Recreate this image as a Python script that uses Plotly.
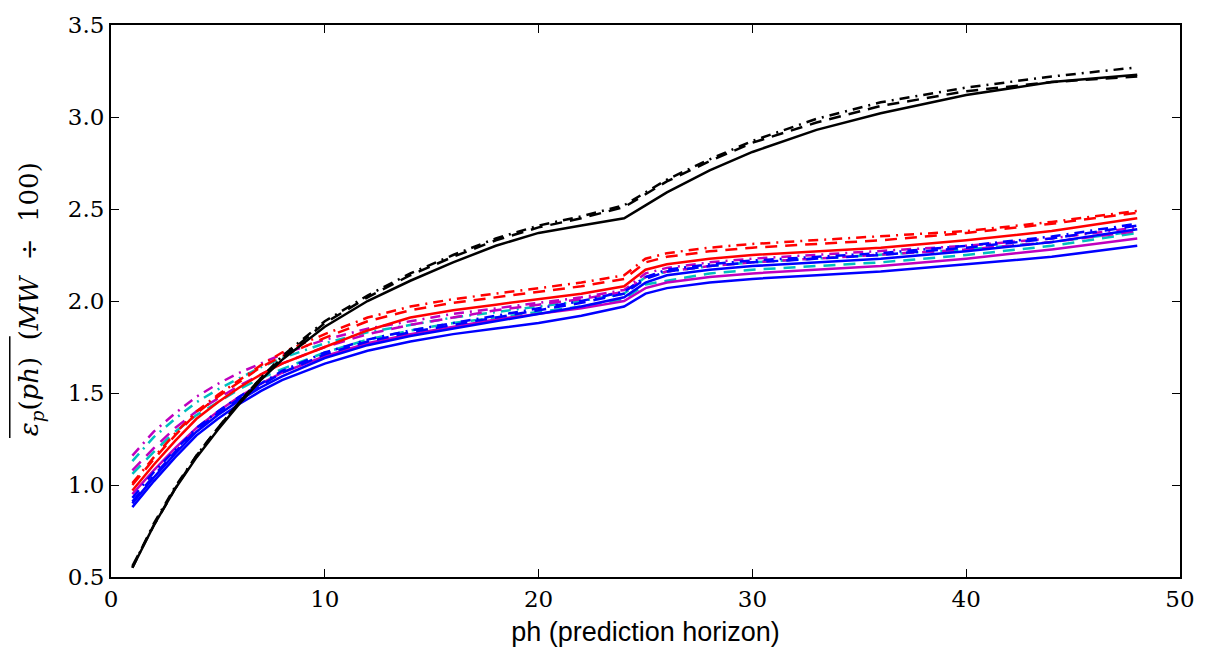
import plotly.graph_objects as go

# prediction horizon
ph = [1, 2, 3, 4, 5, 6, 7, 8, 10, 12, 14, 16, 18, 20, 22, 24, 25, 26, 28, 30, 33, 36, 40, 44, 48]

# series values (MW / 100)
k_solid   = [0.55, 0.78, 0.98, 1.15, 1.30, 1.44, 1.57, 1.68, 1.86, 2.00, 2.11, 2.21, 2.30, 2.37, 2.41, 2.45, 2.52, 2.59, 2.71, 2.81, 2.93, 3.02, 3.12, 3.19, 3.23]
k_dash    = [0.56, 0.78, 0.98, 1.16, 1.31, 1.45, 1.58, 1.69, 1.88, 2.02, 2.14, 2.24, 2.33, 2.40, 2.45, 2.51, 2.58, 2.65, 2.76, 2.86, 2.97, 3.06, 3.14, 3.19, 3.22]
k_dashdot = [0.55, 0.79, 0.99, 1.16, 1.31, 1.45, 1.58, 1.70, 1.89, 2.03, 2.15, 2.25, 2.34, 2.41, 2.46, 2.52, 2.59, 2.66, 2.77, 2.87, 2.99, 3.08, 3.16, 3.22, 3.27]

r_solid   = [0.97, 1.11, 1.24, 1.36, 1.45, 1.53, 1.60, 1.66, 1.75, 1.84, 1.91, 1.95, 1.98, 2.01, 2.04, 2.08, 2.17, 2.20, 2.23, 2.25, 2.27, 2.29, 2.33, 2.38, 2.45]
r_dash    = [1.00, 1.14, 1.27, 1.39, 1.48, 1.56, 1.64, 1.70, 1.80, 1.89, 1.95, 1.99, 2.02, 2.05, 2.08, 2.12, 2.21, 2.24, 2.27, 2.29, 2.31, 2.33, 2.37, 2.42, 2.48]
r_dashdot = [1.01, 1.15, 1.28, 1.40, 1.49, 1.57, 1.65, 1.72, 1.82, 1.91, 1.97, 2.01, 2.04, 2.07, 2.10, 2.14, 2.23, 2.26, 2.29, 2.31, 2.33, 2.35, 2.38, 2.43, 2.49]

b_solid_low = [0.88, 1.02, 1.15, 1.27, 1.36, 1.44, 1.51, 1.57, 1.66, 1.73, 1.78, 1.82, 1.85, 1.88, 1.92, 1.97, 2.04, 2.07, 2.10, 2.12, 2.14, 2.16, 2.20, 2.24, 2.30]
b_solid_up  = [0.90, 1.04, 1.17, 1.29, 1.38, 1.46, 1.53, 1.59, 1.69, 1.76, 1.81, 1.85, 1.89, 1.93, 1.97, 2.02, 2.10, 2.14, 2.17, 2.19, 2.21, 2.23, 2.27, 2.32, 2.39]
b_dash      = [0.91, 1.05, 1.18, 1.30, 1.39, 1.47, 1.54, 1.61, 1.71, 1.78, 1.83, 1.87, 1.91, 1.95, 1.99, 2.04, 2.12, 2.16, 2.19, 2.21, 2.23, 2.25, 2.29, 2.34, 2.41]
b_dashdot   = [0.93, 1.07, 1.19, 1.31, 1.40, 1.48, 1.55, 1.62, 1.72, 1.79, 1.84, 1.88, 1.92, 1.96, 2.00, 2.05, 2.13, 2.17, 2.20, 2.22, 2.24, 2.26, 2.30, 2.35, 2.42]

m_solid   = [0.95, 1.08, 1.20, 1.31, 1.40, 1.48, 1.55, 1.61, 1.70, 1.77, 1.82, 1.86, 1.90, 1.93, 1.96, 2.00, 2.07, 2.10, 2.13, 2.15, 2.17, 2.19, 2.23, 2.28, 2.34]
m_dash    = [1.08, 1.20, 1.31, 1.40, 1.47, 1.54, 1.60, 1.66, 1.75, 1.82, 1.87, 1.91, 1.95, 1.98, 2.01, 2.05, 2.13, 2.16, 2.19, 2.21, 2.23, 2.25, 2.28, 2.32, 2.38]
m_dashdot = [1.16, 1.29, 1.39, 1.48, 1.55, 1.61, 1.66, 1.71, 1.79, 1.85, 1.89, 1.93, 1.96, 1.99, 2.02, 2.06, 2.15, 2.18, 2.21, 2.23, 2.25, 2.27, 2.30, 2.34, 2.40]

c_dash    = [1.06, 1.18, 1.29, 1.38, 1.45, 1.52, 1.58, 1.63, 1.72, 1.79, 1.84, 1.88, 1.91, 1.94, 1.97, 2.01, 2.09, 2.11, 2.15, 2.17, 2.19, 2.21, 2.25, 2.30, 2.37]
c_dashdot = [1.13, 1.26, 1.36, 1.45, 1.52, 1.58, 1.64, 1.69, 1.77, 1.83, 1.87, 1.91, 1.94, 1.97, 2.00, 2.04, 2.13, 2.16, 2.19, 2.21, 2.23, 2.25, 2.28, 2.32, 2.38]

x_ticks = [0, 10, 20, 30, 40, 50]
y_ticks = [0.5, 1.0, 1.5, 2.0, 2.5, 3.0, 3.5]
y_tick_text = ["0.5", "1.0", "1.5", "2.0", "2.5", "3.0", "3.5"]

BLUE, RED, BLACK, MAG, CYAN = "#0000ff", "#ff0000", "#000000", "#bf00bf", "#00bfbf"
DASH = "12px,8px"
DASHDOT = "10px,6px,2px,6px"

series = [
    (c_dashdot, CYAN, DASHDOT),
    (c_dash, CYAN, DASH),
    (m_dashdot, MAG, DASHDOT),
    (m_dash, MAG, DASH),
    (m_solid, MAG, "solid"),
    (b_dashdot, BLUE, DASHDOT),
    (b_dash, BLUE, DASH),
    (b_solid_up, BLUE, "solid"),
    (b_solid_low, BLUE, "solid"),
    (r_dashdot, RED, DASHDOT),
    (r_dash, RED, DASH),
    (r_solid, RED, "solid"),
    (k_dashdot, BLACK, DASHDOT),
    (k_dash, BLACK, DASH),
    (k_solid, BLACK, "solid"),
]

fig = go.Figure()
for vals, col, dash in series:
    fig.add_trace(go.Scatter(x=ph, y=vals, mode="lines",
                             line=dict(color=col, width=2.5, dash=dash),
                             showlegend=False, hoverinfo="skip"))

tickfont = dict(family="DejaVu Serif", size=23, color="black")
fig.update_layout(
    width=1207, height=654,
    margin=dict(l=111, r=24, t=18, b=77),
    paper_bgcolor="white", plot_bgcolor="white",
    xaxis=dict(range=[0, 50], tickvals=x_ticks, ticks="inside", ticklen=8, tickwidth=1,
               tickcolor="black", showline=True, linecolor="black", linewidth=2,
               mirror="ticks", showgrid=False, zeroline=False, tickfont=tickfont,
               title=dict(text="ph (prediction horizon)",
                          font=dict(family="Liberation Sans", size=27, color="black"),
                          standoff=12)),
    yaxis=dict(range=[0.5, 3.5], tickvals=y_ticks, ticktext=y_tick_text, ticks="inside",
               ticklen=8, tickwidth=1, tickcolor="black", showline=True, linecolor="black",
               linewidth=2, mirror="ticks", showgrid=False, zeroline=False, tickfont=tickfont),
)
# y-axis title (rotated), with the overline over the averaged quantity
fig.add_annotation(
    text="<i>ε<sub>p</sub></i>(<i>ph</i>)  (<i>MW</i>  ÷  100)",
    xref="paper", yref="paper", x=-0.0746, y=0.252,
    xanchor="center", yanchor="bottom", textangle=-90, showarrow=False,
    font=dict(family="DejaVu Serif", size=26, color="black"))
fig.add_shape(type="line", xref="paper", yref="paper",
              x0=-0.0947, x1=-0.0947, y0=0.252, y1=0.436,
              line=dict(color="black", width=1.5))

fig.write_html("out.html")
